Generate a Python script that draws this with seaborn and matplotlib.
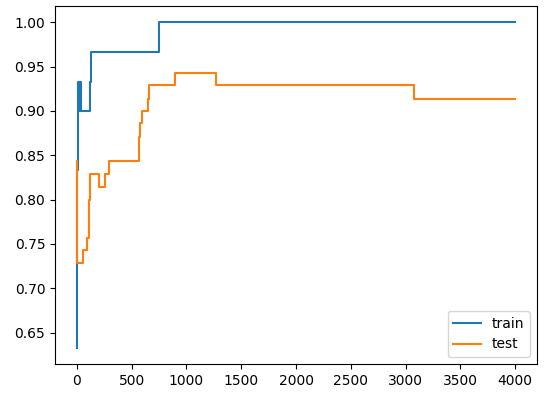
import matplotlib
matplotlib.use("Agg")
import matplotlib.pyplot as plt
import seaborn as sns
import pandas as pd

# step start positions and accuracy values
train_x = [0, 2, 4, 6, 8, 10, 15, 20, 25, 30, 35, 115, 125, 745, 4000]
train_acc = [0.633, 0.767, 0.833, 0.867, 0.900, 0.933, 0.900, 0.933, 0.900,
             0.933, 0.900, 0.933, 0.967, 1.000, 1.000]

test_x = [0, 5, 55, 94, 110, 118, 124, 206, 255, 297, 564, 572, 590, 648,
          662, 891, 1270, 3080, 4000]
test_acc = [0.843, 0.729, 0.743, 0.757, 0.800, 0.814, 0.829, 0.814, 0.829,
            0.843, 0.871, 0.886, 0.900, 0.914, 0.929, 0.943, 0.929, 0.914,
            0.914]

train_df = pd.DataFrame({'x': train_x, 'acc': train_acc})
test_df = pd.DataFrame({'x': test_x, 'acc': test_acc})

fig = plt.figure(figsize=(5.51, 4.0), dpi=100)
ax = fig.add_axes([0.0998, 0.09, 0.875, 0.895])

sns.lineplot(data=train_df, x='x', y='acc', ax=ax, label='train',
             color='#1f77b4', drawstyle='steps-post', linewidth=1.5)
sns.lineplot(data=test_df, x='x', y='acc', ax=ax, label='test',
             color='#ff7f0e', drawstyle='steps-post', linewidth=1.5)

ax.set_xlabel('')
ax.set_ylabel('')
ax.set_xticks([0, 500, 1000, 1500, 2000, 2500, 3000, 3500, 4000])
ax.legend(loc='lower right')

plt.savefig('out.png', dpi=100)
plt.close()
